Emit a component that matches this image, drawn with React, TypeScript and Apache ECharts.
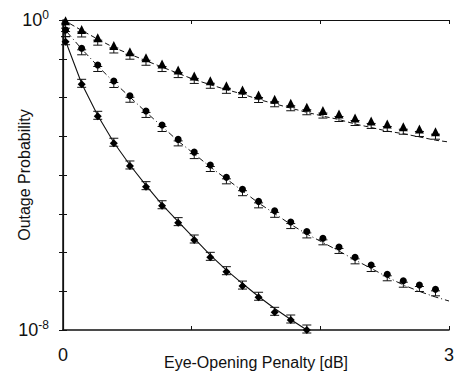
import React, { useEffect, useRef } from "react";
import * as echarts from "echarts";

// Eye-opening penalty [dB] at which simulated points were taken
const penaltyDb = [
  0.02, 0.145, 0.27, 0.395, 0.52, 0.645, 0.77, 0.895, 1.02, 1.145, 1.27, 1.395,
  1.52, 1.645, 1.77, 1.895, 2.02, 2.145, 2.27, 2.395, 2.52, 2.645, 2.77, 2.895,
];
// x positions of the analytic curves
const theoryDb = [
  0, 0.02, 0.145, 0.27, 0.395, 0.52, 0.645, 0.77, 0.895, 1.02, 1.145, 1.27, 1.395,
  1.52, 1.645, 1.77, 1.895, 2.02, 2.145, 2.27, 2.395, 2.52, 2.645, 2.77, 2.895, 3,
];

// Triangles (dashed curve)
const triangleSim = [
  0.96, 0.57, 0.35, 0.22, 0.152, 0.106, 7.3e-2, 5.1e-2, 3.6e-2, 2.7e-2, 2.0e-2, 1.56e-2,
  1.16e-2, 9.0e-3, 7.1e-3, 5.6e-3, 4.6e-3, 3.75e-3, 2.96e-3, 2.48e-3, 2.07e-3, 1.76e-3, 1.54e-3, 1.31e-3,
];
const triangleTheory = [
  1, 0.93, 0.54, 0.32, 0.195, 0.131, 8.9e-2, 6.1e-2, 4.2e-2, 2.9e-2, 2.14e-2, 1.59e-2, 1.23e-2,
  8.9e-3, 6.9e-3, 5.3e-3, 4.15e-3, 3.3e-3, 2.7e-3, 2.07e-3, 1.68e-3, 1.36e-3, 1.16e-3, 9.6e-4, 7.9e-4, 7.1e-4,
];

// Circles (dash-dot curve)
const circleSim = [
  0.55, 0.186, 6.9e-2, 2.67e-2, 1.11e-2, 4.5e-3, 1.95e-3, 8.3e-4, 3.9e-4, 1.81e-4, 8.7e-5, 4.3e-5,
  2.09e-5, 1.19e-5, 6.1e-6, 3.5e-6, 2.32e-6, 1.39e-6, 7.5e-7, 4.75e-7, 2.74e-7, 1.87e-7, 1.45e-7, 1.12e-7,
];
const circleTheory = [
  1, 0.54, 0.179, 6.5e-2, 2.5e-2, 1.03e-2, 4.2e-3, 1.79e-3, 7.5e-4, 3.5e-4, 1.61e-4, 7.9e-5, 3.9e-5,
  1.89e-5, 1.01e-5, 5.3e-6, 3.0e-6, 1.81e-6, 1.09e-6, 6.4e-7, 3.9e-7, 2.33e-7, 1.45e-7, 9.9e-8, 7.1e-8, 5.6e-8,
];

// Diamonds (solid curve)
const diamondSim = [
  0.275, 2.19e-2, 3.27e-3, 6.6e-4, 1.71e-4, 5.0e-5, 1.61e-5, 5.9e-6, 2.1e-6, 7.5e-7, 3.2e-7, 1.36e-7,
  7.0e-8, 2.86e-8, 1.81e-8, 1.0e-8,
];
const diamondTheory = [
  1, 0.287, 2.3e-2, 3.43e-3, 6.9e-4, 1.81e-4, 5.4e-5, 1.73e-5, 6.3e-6, 2.3e-6, 8.6e-7, 3.5e-7, 1.58e-7,
  7.3e-8, 3.6e-8, 1.87e-8, 1.0e-8,
];

const xTickLabels = ["0", "3"];
const yTickLabels = [
  { value: 1, text: "0" },
  { value: 1e-8, text: "-8" },
];

const FONT = "'Liberation Sans', Arial, Helvetica, sans-serif";
const INK = "#111";

function pairs(xs: number[], ys: number[]) {
  return ys.map((y, i) => [xs[i], y]);
}

function errorBars(name: string, data: number[][], offset: number, half: number) {
  return {
    name,
    type: "custom",
    z: 3,
    data,
    renderItem: (_p: any, api: any) => {
      const c = api.coord([api.value(0), api.value(1)]);
      const cx = c[0];
      const cy = c[1] + offset;
      const w = 4.5;
      const st = { stroke: INK, lineWidth: 1 };
      return {
        type: "group",
        children: [
          { type: "line", shape: { x1: cx, y1: cy - half, x2: cx, y2: cy + half }, style: st },
          { type: "line", shape: { x1: cx - w, y1: cy - half, x2: cx + w, y2: cy - half }, style: st },
          { type: "line", shape: { x1: cx - w, y1: cy + half, x2: cx + w, y2: cy + half }, style: st },
        ],
      };
    },
  };
}

export default function App() {
  const ref = useRef<HTMLDivElement>(null);
  useEffect(() => {
    document.body.style.margin = "0";
    const chart = echarts.init(ref.current!, undefined, { renderer: "svg" });
    const axisLine = { show: true, lineStyle: { color: INK, width: 1.5 } };
    const tick = { show: true, inside: true, length: 4, lineStyle: { color: INK, width: 1 } };
    chart.setOption({
      animation: false,
      backgroundColor: "#fff",
      grid: { left: 63, right: 8, top: 20, bottom: 43, containLabel: false, outerBoundsMode: "none" },
      xAxis: [
        {
          type: "value",
          min: 0,
          max: 3,
          interval: 1,
          axisLine,
          axisTick: tick,
          splitLine: { show: false },
          axisLabel: {
            color: INK,
            fontFamily: FONT,
            fontSize: 18,
            margin: 16,
            formatter: (v: number) => (xTickLabels.includes(String(v)) ? String(v) : ""),
          },
          name: "Eye-Opening Penalty [dB]",
          nameLocation: "middle",
          nameGap: 24,
          nameMoveOverlap: false,
          nameTextStyle: { color: INK, fontFamily: FONT, fontSize: 16 },
        },
        {
          type: "value",
          position: "top",
          min: 0,
          max: 3,
          interval: 1,
          axisLine: { show: true, lineStyle: { color: INK, width: 1.2 } },
          axisTick: tick,
          axisLabel: { show: false },
          splitLine: { show: false },
        },
      ],
      yAxis: [
        {
          type: "log",
          logBase: 10,
          min: 1e-8,
          max: 1,
          interval: 1,
          axisLine,
          axisTick: tick,
          minorTick: { show: false },
          splitLine: { show: false },
          axisLabel: {
            margin: 14,
            fontFamily: FONT,
            color: INK,
            formatter: (v: number) => {
              const hit = yTickLabels.find((t) => Math.abs(Math.log10(v) - Math.log10(t.value)) < 0.01);
              return hit ? `{b|10}{s|${hit.text}}` : "";
            },
            rich: {
              b: { fontSize: 18, fontFamily: FONT, color: INK },
              s: { fontSize: 12, fontFamily: FONT, color: INK, padding: [0, 0, 10, 0] },
            },
          },
          name: "Outage Probability",
          nameLocation: "middle",
          nameRotate: 90,
          nameGap: 31,
          nameMoveOverlap: false,
          nameTextStyle: { color: INK, fontFamily: FONT, fontSize: 16 },
        },
        {
          type: "log",
          logBase: 10,
          position: "right",
          min: 1e-8,
          max: 1,
          interval: 1,
          axisLine: { show: true, lineStyle: { color: INK, width: 1.2 } },
          axisTick: tick,
          axisLabel: { show: false },
          splitLine: { show: false },
        },
      ],
      series: [
        {
          name: "triangle theory",
          type: "line",
          data: pairs(theoryDb, triangleTheory),
          showSymbol: false,
          lineStyle: { color: INK, width: 1, type: [5, 3] },
          z: 2,
        },
        {
          name: "circle theory",
          type: "line",
          data: pairs(theoryDb, circleTheory),
          showSymbol: false,
          lineStyle: { color: INK, width: 1, type: [6, 3, 1, 3] },
          z: 2,
        },
        {
          name: "diamond theory",
          type: "line",
          data: pairs(theoryDb, diamondTheory),
          showSymbol: false,
          lineStyle: { color: INK, width: 1.1 },
          z: 2,
        },
        errorBars("triangle err", pairs(penaltyDb, triangleSim), 5, 2.5),
        errorBars("circle err", pairs(penaltyDb, circleSim), 4, 2.5),
        errorBars("diamond err", pairs(penaltyDb, diamondSim), -1, 4),
        {
          name: "triangle sim",
          type: "scatter",
          symbol: "triangle",
          symbolSize: 9,
          data: pairs(penaltyDb, triangleSim),
          itemStyle: { color: "#000", opacity: 1 },
          z: 4,
        },
        {
          name: "circle sim",
          type: "scatter",
          symbol: "circle",
          symbolSize: 7,
          data: pairs(penaltyDb, circleSim),
          itemStyle: { color: "#000", opacity: 1 },
          z: 4,
        },
        {
          name: "diamond sim",
          type: "scatter",
          symbol: "diamond",
          symbolSize: 8,
          data: pairs(penaltyDb, diamondSim),
          itemStyle: { color: "#000", opacity: 1 },
          z: 4,
        },
      ],
    });
    return () => chart.dispose();
  }, []);
  return <div ref={ref} style={{ width: 457, height: 373 }} />;
}
